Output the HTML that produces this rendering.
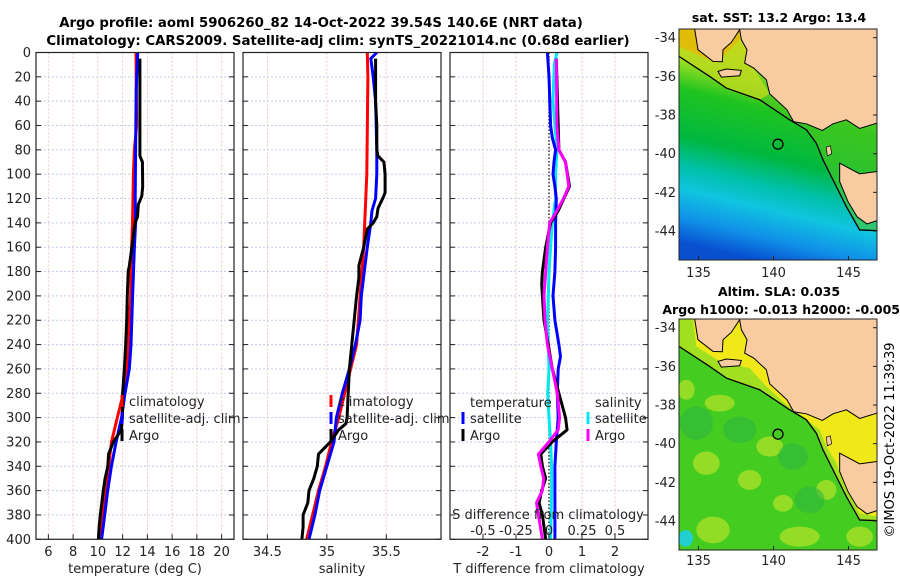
<!DOCTYPE html>
<html><head><meta charset="utf-8">
<style>
html,body{margin:0;padding:0;background:#fff;}
svg{display:block;font-family:"DejaVu Sans","Liberation Sans",sans-serif;}
</style></head>
<body>
<svg id="fig" width="900" height="580" viewBox="0 0 900 580" xmlns="http://www.w3.org/2000/svg">
<rect width="900" height="580" fill="#fff"/>
<text x="321" y="27" font-size="13.3" font-weight="bold" text-anchor="middle">Argo profile: aoml 5906260_82 14-Oct-2022 39.54S 140.6E (NRT data)</text>
<text x="338" y="45" font-size="13.3" font-weight="bold" text-anchor="middle">Climatology: CARS2009. Satellite-adj clim: synTS_20221014.nc (0.68d earlier)</text>
<g id="panels"></g>

<!-- SST map -->
<g>
<text x="779" y="22" font-size="12.5" font-weight="bold" text-anchor="middle">sat. SST: 13.2 Argo: 13.4</text>
<svg x="679" y="29" width="198" height="231" viewBox="58 88 594 692" preserveAspectRatio="none">
<defs>
<linearGradient id="sstg" x1="0.6" y1="0" x2="0.4" y2="1">
<stop offset="0" stop-color="#f0a800"/>
<stop offset="0.12" stop-color="#e8d810"/>
<stop offset="0.24" stop-color="#a0e020"/>
<stop offset="0.36" stop-color="#20c420"/>
<stop offset="0.56" stop-color="#00b840"/>
<stop offset="0.68" stop-color="#00c0a8"/>
<stop offset="0.78" stop-color="#10c4e0"/>
<stop offset="0.9" stop-color="#1090e8"/>
<stop offset="1" stop-color="#0850d0"/>
</linearGradient>
</defs>
<rect x="58" y="88" width="594" height="692" fill="url(#sstg)"/>
<path d="M58,88 L58,170 L150,230 L200,265 L300,300 L390,360 L440,390 L470,430 L490,480 L520,540 L560,620 L600,690 L652,692 L652,88 Z" fill="#50c820" opacity="0.55"/>
<path d="M58,88 L58,170 L150,230 L200,265 L300,300 L330,282 L282,205 L250,88 Z" fill="#e0e020" opacity="0.6"/>
<path d="M58,88 L58,140 L170,190 L240,120 L240,88 Z" fill="#f0b000" opacity="0.7"/>
<path d="M105,88 L115,150 L160,185 L188,186 L190,150 L215,128 L240,90 L245,120 L262,150 L255,190 L282,205 L320,240 L330,282 L382,330 L402,366 L440,372 L488,392 L520,372 L560,360 L600,386 L652,370 L652,88 Z" fill="#f8cca0" stroke="#000" stroke-width="3"/>
<path d="M175,215 L200,208 L245,212 L240,228 L185,232 Z" fill="#f8cca0" stroke="#000" stroke-width="3"/>
<path d="M500,442 L512,438 L516,462 L503,468 Z" fill="#f8cca0" stroke="#000" stroke-width="2"/>
<path d="M540,490 L600,522 L652,515 L652,662 L622,672 L592,650 L565,605 L540,545 Z" fill="#f8cca0" stroke="#000" stroke-width="3"/>
<path d="M58,170 L150,230 L200,265 L300,300 L390,360 L440,390 L470,430 L490,480 L520,540 L560,620 L600,690 L652,692" fill="none" stroke="#000" stroke-width="4"/>
<circle cx="355" cy="433" r="15" fill="none" stroke="#000" stroke-width="4"/>
</svg>
<rect x="679" y="29" width="198" height="231" fill="none" stroke="#222"/>
</g>

<!-- SLA map -->
<g>
<text x="779" y="296" font-size="12.5" font-weight="bold" text-anchor="middle">Altim. SLA: 0.035</text>
<text x="900" y="314" font-size="12.5" font-weight="bold" text-anchor="end">Argo h1000: -0.013 h2000: -0.005</text>
<svg x="679" y="319" width="198" height="231" viewBox="58 88 594 692" preserveAspectRatio="none">
<rect x="58" y="88" width="594" height="692" fill="#44cc20"/>
<g fill="#a8e028" opacity="0.8">
<ellipse cx="80" cy="300" rx="25" ry="30"/><ellipse cx="180" cy="340" rx="45" ry="25"/>
<ellipse cx="330" cy="470" rx="40" ry="30"/><ellipse cx="140" cy="520" rx="40" ry="35"/>
<ellipse cx="270" cy="570" rx="35" ry="30"/><ellipse cx="420" cy="740" rx="60" ry="30"/>
<ellipse cx="500" cy="600" rx="30" ry="30"/><ellipse cx="600" cy="740" rx="40" ry="30"/>
<ellipse cx="160" cy="720" rx="50" ry="40"/><ellipse cx="370" cy="640" rx="30" ry="25"/>
</g>
<g fill="#30b840" opacity="0.6">
<ellipse cx="110" cy="400" rx="50" ry="50"/><ellipse cx="240" cy="420" rx="50" ry="40"/>
<ellipse cx="400" cy="500" rx="45" ry="40"/><ellipse cx="450" cy="630" rx="45" ry="40"/>
</g>
<ellipse cx="78" cy="745" rx="22" ry="25" fill="#20d0d0"/>
<path d="M58,88 L58,170 L150,230 L200,265 L300,300 L390,360 L440,390 L470,430 L490,480 L520,540 L560,620 L600,690 L652,692 L652,88 Z" fill="#a0e020"/>
<path d="M100,88 L110,170 L180,215 L270,235 L320,290 L380,345 L430,380 L480,420 L500,470 L530,520 L560,600 L600,670 L652,680 L652,88 Z" fill="#f0e818"/>
<path d="M105,88 L115,150 L160,185 L188,186 L190,150 L215,128 L240,90 L245,120 L262,150 L255,190 L282,205 L320,240 L330,282 L382,330 L402,366 L440,372 L488,392 L520,372 L560,360 L600,386 L652,370 L652,88 Z" fill="#f8cca0" stroke="#000" stroke-width="3"/>
<path d="M175,215 L200,208 L245,212 L240,228 L185,232 Z" fill="#f8cca0" stroke="#000" stroke-width="3"/>
<path d="M500,442 L512,438 L516,462 L503,468 Z" fill="#f8cca0" stroke="#000" stroke-width="2"/>
<path d="M540,490 L600,522 L652,515 L652,662 L622,672 L592,650 L565,605 L540,545 Z" fill="#f8cca0" stroke="#000" stroke-width="3"/>
<path d="M58,170 L150,230 L200,265 L300,300 L390,360 L440,390 L470,430 L490,480 L520,540 L560,620 L600,690 L652,692" fill="none" stroke="#000" stroke-width="4"/>
<circle cx="355" cy="433" r="15" fill="none" stroke="#000" stroke-width="4"/>
</svg>
<rect x="679" y="319" width="198" height="231" fill="none" stroke="#222"/>
</g>
<g id="mapaxes"></g>
<text transform="translate(894,440) rotate(-90)" font-size="13" text-anchor="middle">©IMOS 19-Oct-2022 11:39:39</text>
</svg>

<script>
// ---- data ----
const depthTicks = [0,20,40,60,80,100,120,140,160,180,200,220,240,260,280,300,320,340,360,380,400];
const tTicks = [6,8,10,12,14,16,18,20];
const sTicks = [34.5,35,35.5];
const sTickLabels = ['34.5','35','35.5'];
const dTicks = [-2,-1,0,1,2];
const dsTicks = [-0.5,-0.25,0,0.25,0.5];
const dsTickLabels = ['-0.5','-0.25','0','0.25','0.5'];

const climTDepth = [0,60,80,100,140,180,200,260,280,300,320,340,360,380,400];
const climT      = [13.08,13.13,12.95,12.87,12.8,12.65,12.65,12.33,12.06,11.57,11.1,10.87,10.6,10.33,10.12];
const satTDepth  = [0,30,80,120,140,160,200,240,260,280,300,320,340,360,380,400];
const satT       = [13.22,13.1,13.05,13.02,13.05,12.95,12.81,12.68,12.54,12.19,11.92,11.47,11.09,10.79,10.55,10.3];
const argoTDepth = [5,80,85,90,110,118,125,135,140,160,175,180,200,220,240,260,280,300,310,320,330,340,350,360,380,390,400];
const argoT      = [13.4,13.4,13.4,13.6,13.62,13.55,13.27,13.2,13.0,12.75,12.55,12.45,12.38,12.33,12.25,12.14,12.0,11.98,11.9,11.25,10.87,10.8,10.58,10.44,10.2,10.1,10.04];

const climSDepth = [0,20,100,160,200,240,260,280,300,320,340,360,380,400];
const climS      = [35.34,35.345,35.336,35.31,35.28,35.25,35.2,35.15,35.1,35.04,34.99,34.93,34.88,34.83];
const satSDepth  = [0,5,20,40,80,100,120,130,140,160,200,220,240,260,280,300,320,340,360,380,400];
const satS       = [35.42,35.37,35.39,35.41,35.42,35.42,35.41,35.38,35.37,35.34,35.29,35.28,35.24,35.19,35.13,35.08,35.06,35.0,34.94,34.9,34.85];
const argoSDepth = [5,40,60,80,85,90,100,115,120,128,135,140,145,160,175,185,200,220,240,260,280,300,305,310,320,330,340,350,360,370,380,390,400];
const argoS      = [35.41,35.41,35.42,35.42,35.43,35.48,35.49,35.49,35.47,35.43,35.42,35.39,35.34,35.31,35.27,35.27,35.25,35.23,35.21,35.19,35.18,35.17,35.16,35.1,35.03,34.93,34.92,34.89,34.85,34.84,34.8,34.8,34.79];

const dSatTDepth = [0,20,60,70,80,90,100,110,120,140,160,180,200,220,240,250,260,280,300,320,340,360,380,400];
const dSatT      = [-0.05,0,0.05,0.1,0.2,0.15,0.12,0.18,0.22,0.2,0.2,0.18,0.12,0.18,0.3,0.35,0.28,0.25,0.28,0.22,0.18,0.18,0.18,0.18];
const dArgoTDepth = [5,80,90,110,120,130,140,160,180,190,200,220,240,260,280,300,310,320,330,340,350,360,370,380,400];
const dArgoT      = [0.22,0.3,0.5,0.62,0.45,0.28,0.05,-0.1,-0.2,-0.22,-0.2,-0.15,-0.02,0.1,0.3,0.5,0.55,0.1,-0.25,-0.2,-0.1,-0.22,-0.3,-0.2,-0.1];
const dSatSDepth = [0,10,40,80,100,120,140,160,180,200,220,240,260,280,300,320,340,360,400];
const dSatS      = [0.06,0.04,0.03,0.06,0.05,0.05,0.025,0.012,0,-0.005,-0.012,-0.005,0,-0.01,0,0.0125,0.02,0.02,0.0125];
const dArgoSDepth = [5,60,80,90,110,120,130,140,160,180,200,220,240,260,280,300,310,320,330,340,350,360,370,380,400];
const dArgoS      = [0.055,0.06,0.075,0.125,0.15,0.11,0.06,0.005,-0.012,-0.025,-0.0375,-0.03,-0.0125,0.025,0.0625,0.08,0.07,0,-0.08,-0.0625,-0.04,-0.05,-0.095,-0.08,-0.05];

const mapLatTicks = [-34,-36,-38,-40,-42,-44];
const mapLonTicks = [135,140,145];

// ---- drawing ----
const NS='http://www.w3.org/2000/svg';
const root=document.getElementById('panels');
function mk(tag,attrs,parent){const e=document.createElementNS(NS,tag);for(const k in attrs)e.setAttribute(k,attrs[k]);(parent||root).appendChild(e);return e;}
const Y0=52.5, Y1=539.3;
function yD(d){return Y0+(Y1-Y0)*d/400;}
function lin(a,b,p0,p1){return v=>p0+(v-a)*(p1-p0)/(b-a);}

const panels=[
 {x0:36,x1:234,sc:lin(5,21,36,234),name:'temperature-panel'},
 {x0:243,x1:441,sc:lin(34.295,35.96,243,441),name:'salinity-panel'},
 {x0:450,x1:648,sc:lin(-3,3,450,648),name:'difference-panel'}
];
function frame(p,xt,xl,title){
  const g=mk('g',{});
  
  
  xt.forEach(v=>{const x=p.sc(v);
    const l=mk('line',{x1:x,x2:x,y1:Y0,y2:Y1,stroke:'#e8c8c0','stroke-dasharray':'2,2','stroke-width':1},g);
    });
  depthTicks.forEach(d=>{const y=yD(d);
    const l=mk('line',{x1:p.x0,x2:p.x1,y1:y,y2:y,stroke:'#c8c8ec','stroke-dasharray':'2,2','stroke-width':1},g);
    
    mk('line',{x1:p.x0,x2:p.x0+5,y1:y,y2:y,stroke:'#222'},g);
    mk('line',{x1:p.x1-5,x2:p.x1,y1:y,y2:y,stroke:'#222'},g);});
  xt.forEach((v,i)=>{const x=p.sc(v);
    mk('line',{x1:x,x2:x,y1:Y1-5,y2:Y1,stroke:'#222'},g);
    const t=mk('text',{x:x,y:556,'font-size':13,'text-anchor':'middle',fill:'#222'},g);
    t.textContent=xl[i];});
  const t=mk('text',{x:(p.x0+p.x1)/2,y:573,'font-size':13,'text-anchor':'middle',fill:'#222'},g);
  t.textContent=title;
  return g;
}
function series(p,depths,vals,color,name,scale){
  const pts=depths.map((d,i)=>p.sc(vals[i]*(scale||1)).toFixed(1)+','+yD(d).toFixed(1)).join(' ');
  const l=mk('polyline',{points:pts,fill:'none',stroke:color,'stroke-width':3,'stroke-linejoin':'round'});
  
  
}
function border(p){mk('rect',{x:p.x0,y:Y0,width:p.x1-p.x0,height:Y1-Y0,fill:'none',stroke:'#222','stroke-width':1.2});}
function legendEntry(x,y,color,label){
  const g=mk('g',{});
  
  
  mk('rect',{x:x-1.5,y:y-11,width:3,height:12,fill:color},g);
  const t=mk('text',{x:x+7,y:y,'font-size':13,fill:'#222'},g);t.textContent=label;
}

// y tick labels
depthTicks.forEach(d=>{const t=mk('text',{x:31,y:yD(d)+4.5,'font-size':13,'text-anchor':'end',fill:'#222'});
  t.textContent=d;});

// panel 1
frame(panels[0],tTicks,tTicks.map(String),'temperature (deg C)');
series(panels[0],climTDepth,climT,'#ff0000','climatology-t-line');
series(panels[0],satTDepth,satT,'#0000ff','satellite-t-line');
series(panels[0],argoTDepth,argoT,'#000000','argo-t-line');
border(panels[0]);
legendEntry(122,406,'#ff0000','climatology');
legendEntry(122,423,'#0000ff','satellite-adj. clim');
legendEntry(122,440,'#000000','Argo');

// panel 2
frame(panels[1],sTicks,sTickLabels,'salinity');
series(panels[1],climSDepth,climS,'#ff0000','climatology-s-line');
series(panels[1],satSDepth,satS,'#0000ff','satellite-s-line');
series(panels[1],argoSDepth,argoS,'#000000','argo-s-line');
border(panels[1]);
legendEntry(331,406,'#ff0000','climatology');
legendEntry(331,423,'#0000ff','satellite-adj. clim');
legendEntry(331,440,'#000000','Argo');

// panel 3
frame(panels[2],dTicks,dTicks.map(String),'T difference from climatology');
const zl=mk('line',{x1:panels[2].sc(0),x2:panels[2].sc(0),y1:Y0,y2:Y1,stroke:'#333','stroke-dasharray':'1.5,2','stroke-width':1.5});

series(panels[2],dSatSDepth,dSatS,'#00e8f0','satellite-s-diff-line',4);
series(panels[2],dSatTDepth,dSatT,'#0000ff','satellite-t-diff-line');
series(panels[2],dArgoTDepth,dArgoT,'#000000','argo-t-diff-line');
series(panels[2],dArgoSDepth,dArgoS,'#ff00ff','argo-s-diff-line',4);
border(panels[2]);
{const t=mk('text',{x:470,y:407,'font-size':13,fill:'#222'});t.textContent='temperature';}
{const t=mk('text',{x:595,y:407,'font-size':13,fill:'#222'});t.textContent='salinity';}
legendEntry(463,423,'#0000ff','satellite');
legendEntry(463,440,'#000000','Argo');
legendEntry(588,423,'#00e8f0','satellite');
legendEntry(588,440,'#ff00ff','Argo');
{const t=mk('text',{x:548,y:519,'font-size':13,'text-anchor':'middle',fill:'#222'});t.textContent='S difference from climatology';}
dsTicks.forEach((v,i)=>{const x=panels[2].sc(v*4);
  mk('line',{x1:x,x2:x,y1:Y1-5,y2:Y1,stroke:'#222'});
  const t=mk('text',{x:x,y:535,'font-size':13,'text-anchor':'middle',fill:'#222'});
  t.textContent=dsTickLabels[i];});

// map axes
const ma=document.getElementById('mapaxes');
[[29,277],[319,565]].forEach(([top,lonY])=>{
  const latY=lin(-33.55,-45.5,top,top+231);
  const lonX=lin(133.7,146.9,679,877);
  mapLatTicks.forEach(v=>{const y=latY(v);
    mk('line',{x1:877,x2:873,y1:y,y2:y,stroke:'#222'},ma);
    const t=mk('text',{x:676,y:y+4.5,'font-size':13,'text-anchor':'end',fill:'#222'},ma);
    t.textContent=v;});
  mapLonTicks.forEach(v=>{const x=lonX(v);
    mk('line',{x1:x,x2:x,y1:top+231,y2:top+227,stroke:'#222'},ma);
    const t=mk('text',{x:x,y:lonY,'font-size':13,'text-anchor':'middle',fill:'#222'},ma);
    t.textContent=v;});
});
</script>
</body></html>
